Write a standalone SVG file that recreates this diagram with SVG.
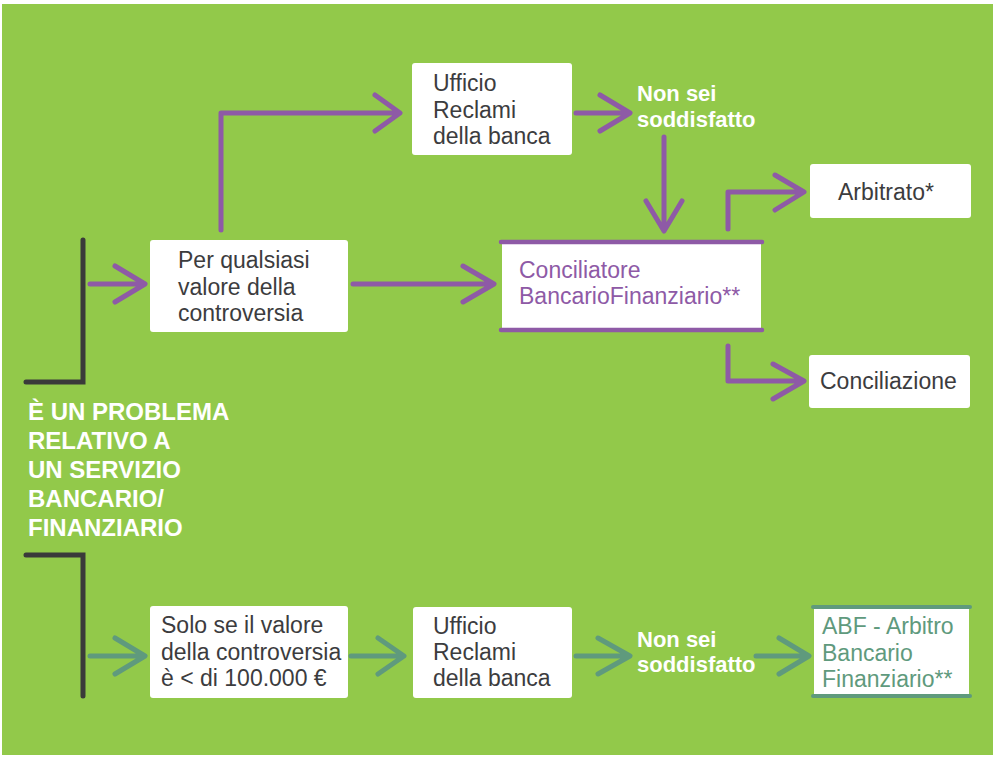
<svg xmlns="http://www.w3.org/2000/svg" width="995" height="757" viewBox="0 0 995 757">
<style>
.box{fill:#ffffff}
.t{font-family:"Liberation Sans",Arial,sans-serif;font-size:23px;fill:#3c3c3e}
.tp{font-family:"Liberation Sans",Arial,sans-serif;font-size:23px;fill:#8e5aa6}
.tt{font-family:"Liberation Sans",Arial,sans-serif;font-size:23px;fill:#5f9a7d}
.wb{font-family:"Liberation Sans",Arial,sans-serif;font-size:22px;font-weight:bold;fill:#ffffff}
.title{font-family:"Liberation Sans",Arial,sans-serif;font-size:24px;font-weight:bold;fill:#ffffff}
.p{fill:none;stroke:#8e5aa6;stroke-width:5;stroke-linecap:round;stroke-linejoin:round}
.g{fill:none;stroke:#5f9a7d;stroke-width:5;stroke-linecap:round;stroke-linejoin:round}
.k{fill:none;stroke:#3a3a3a;stroke-width:5;stroke-linecap:round;stroke-linejoin:miter}
</style>
<rect x="0" y="0" width="995" height="757" fill="#ffffff"/>
<rect x="2" y="4" width="991" height="751" fill="#92c94a"/>

<g id="connectors">
<!-- left bracket -->
<path class="k" d="M83 240 V382 H26"/>
<path class="k" d="M26 555 H83 V696"/>
<!-- purple -->
<path class="p" d="M90 284 H144 M115 266 L145 284 L115 302"/>
<path class="p" d="M221 230 V113 H398 M375 95 L400 113 L375 131"/>
<path class="p" d="M353 284 H492 M463 266 L494 284 L463 302"/>
<path class="p" d="M576 113 H628 M600 95 L630 113 L600 131"/>
<path class="p" d="M664 137 V229 M646 201 L664 231 L682 201"/>
<path class="p" d="M728 229 V192 H802 M775 175 L804 192 L775 210"/>
<path class="p" d="M728 346 V381 H802 M773 364 L804 381 L773 399"/>
<!-- teal -->
<path class="g" d="M90 656 H144 M115 638 L145 656 L115 674"/>
<path class="g" d="M351 656 H402 M378 638 L404 656 L378 674"/>
<path class="g" d="M576 656 H628 M598 638 L630 656 L598 674"/>
<path class="g" d="M756 656 H807 M779 638 L809 656 L779 674"/>
</g>

<g id="title">
<text class="title" x="28" y="420">È UN PROBLEMA</text>
<text class="title" x="28" y="449">RELATIVO A</text>
<text class="title" x="28" y="478">UN SERVIZIO</text>
<text class="title" x="28" y="507">BANCARIO/</text>
<text class="title" x="28" y="536">FINANZIARIO</text>
</g>

<g id="per-qualsiasi">
<rect class="box" x="150" y="240" width="198" height="92" rx="3"/>
<text class="t" x="178" y="268">Per qualsiasi</text>
<text class="t" x="178" y="295">valore della</text>
<text class="t" x="178" y="321">controversia</text>
</g>

<g id="ufficio-top">
<rect class="box" x="412" y="63" width="160" height="92" rx="3"/>
<text class="t" x="433" y="91">Ufficio</text>
<text class="t" x="433" y="118">Reclami</text>
<text class="t" x="433" y="144">della banca</text>
</g>

<g id="non-sei-top">
<text class="wb" x="637" y="101">Non sei</text>
<text class="wb" x="637" y="127">soddisfatto</text>
</g>

<g id="conciliatore">
<rect class="box" x="502" y="243" width="259" height="86"/>
<line x1="501" y1="242" x2="762" y2="242" stroke="#8e5aa6" stroke-width="4.5" stroke-linecap="round"/>
<line x1="501" y1="330" x2="762" y2="330" stroke="#8e5aa6" stroke-width="4.5" stroke-linecap="round"/>
<text class="tp" x="519" y="278">Conciliatore</text>
<text class="tp" x="519" y="304">BancarioFinanziario**</text>
</g>

<g id="arbitrato">
<rect class="box" x="810" y="164" width="161" height="54" rx="3"/>
<text class="t" x="838" y="200">Arbitrato*</text>
</g>

<g id="conciliazione">
<rect class="box" x="809" y="355" width="161" height="53" rx="3"/>
<text class="t" x="820" y="389">Conciliazione</text>
</g>

<g id="solo-se">
<rect class="box" x="150" y="606" width="198" height="92" rx="3"/>
<text class="t" x="161" y="633">Solo se il valore</text>
<text class="t" x="161" y="660">della controversia</text>
<text class="t" x="161" y="686">è &lt; di 100.000 €</text>
</g>

<g id="ufficio-bottom">
<rect class="box" x="413" y="607" width="159" height="91" rx="3"/>
<text class="t" x="433" y="634">Ufficio</text>
<text class="t" x="433" y="660">Reclami</text>
<text class="t" x="433" y="686">della banca</text>
</g>

<g id="non-sei-bottom">
<text class="wb" x="637" y="647">Non sei</text>
<text class="wb" x="637" y="672">soddisfatto</text>
</g>

<g id="abf">
<rect class="box" x="814" y="608" width="155" height="88"/>
<line x1="813" y1="607" x2="970" y2="607" stroke="#5f9a7d" stroke-width="4" stroke-linecap="round"/>
<line x1="813" y1="696" x2="970" y2="696" stroke="#5f9a7d" stroke-width="4" stroke-linecap="round"/>
<text class="tt" x="822" y="634">ABF - Arbitro</text>
<text class="tt" x="822" y="661">Bancario</text>
<text class="tt" x="822" y="687">Finanziario**</text>
</g>
</svg>
